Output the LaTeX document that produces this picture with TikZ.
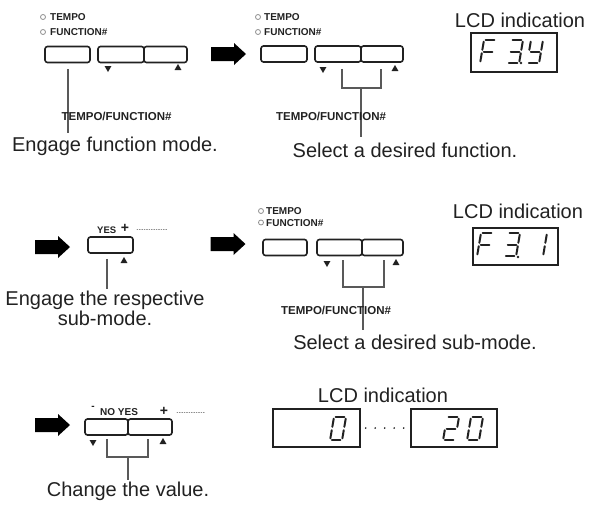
\documentclass[tikz,border=0pt]{standalone}
\usepackage{fontspec}
\setmainfont{Liberation Sans}
\usetikzlibrary{shapes.geometric}
\definecolor{inkA}{rgb}{0.13,0.13,0.13}
\definecolor{inkB}{rgb}{0.35,0.35,0.35}
\definecolor{ledc}{rgb}{0.55,0.55,0.55}

% seven segment digit: top-left corner, list of segments
\newcommand\lcddigit[3]{%
  \begin{scope}[shift={(#1,#2)}, xslant=0.17]
    \coordinate (qA) at (0,0);    \coordinate (qB) at (12,0);
    \coordinate (qC) at (0,11.5); \coordinate (qD) at (12,11.5);
    \coordinate (qE) at (0,23);   \coordinate (qF) at (12,23);
    \foreach \p/\q in {#3} {\draw[lcdseg] (q\p) -- (q\q);}
  \end{scope}}

\begin{document}
\begin{tikzpicture}[x=1pt, y=-1pt, line cap=round,
  btn/.style={draw=inkA, line width=1.6pt, rounded corners=2.5pt, fill=white,
    minimum height=16pt, inner sep=0pt},
  led/.style={circle, draw=ledc, line width=0.8pt, minimum size=5pt, inner sep=0pt},
  small/.style={anchor=base west, inner sep=0pt, text=inkA,
    font=\fontsize{10}{11}\selectfont\bfseries},
  keylabel/.style={anchor=base, inner sep=0pt, text=inkA,
    font=\fontsize{11.5}{13}\selectfont\bfseries},
  say/.style={anchor=base, inner sep=0pt, text=inkA,
    font=\fontsize{20}{20}\selectfont},
  lcdbox/.style={draw=inkA, line width=1.3pt, inner sep=0pt},
  lcdseg/.style={draw=inkA, line width=2pt, shorten <=1.7pt, shorten >=1.7pt},
  upmark/.style={regular polygon, regular polygon sides=3, fill=inkA,
    inner sep=0pt, minimum size=8pt},
  dnmark/.style={upmark, shape border rotate=180},
  bigarrow/.pic={\fill[black] (-17.5,-7) -- (5.5,-7) -- (5.5,-11) -- (17.5,0)
    -- (5.5,11) -- (5.5,7) -- (-17.5,7) -- cycle;},
  stem/.style={draw=inkB, line width=1.2pt, line cap=butt},
  dotline/.style={draw=ledc, line width=0.8pt, dash pattern=on 0.8pt off 1.6pt}]
\useasboundingbox (0,0) rectangle (592,504);

% ---------- row 1, left: engage function mode ----------
\node[led] (led1) at (43,17) {};
\node[led] (led2) at (43,32) {};
\node[small] (tp1) at (50,20.7) {TEMPO};
\node[small] (fn1) at (50,35.7) {FUNCTION\#};
\node[btn, minimum width=45pt] (b1) at (67.5,54.5) {};
\node[btn, minimum width=46pt] (b2) at (121,54.5) {};
\node[btn, minimum width=43pt] (b3) at (165.5,54.5) {};
\node[dnmark] (dn1) at (108,68) {};
\node[upmark] (up1) at (178,68) {};
\node[say] (t1) at (115,151) {Engage function mode.};
\coordinate (s1) at ([shift={(0.5,6)}]b1.south);
\draw[stem, shorten >=3pt] (s1) -- (s1 |- t1.north);
\node[keylabel] (tf1) at (116.5,120.5) {TEMPO/FUNCTION\#};

% ---------- row 1, middle: select a function ----------
\pic (ar1) at (228.5,54) {bigarrow};
\node[led] (led3) at (258,17) {};
\node[led] (led4) at (258,32) {};
\node[small] (tp2) at (264,20.7) {TEMPO};
\node[small] (fn2) at (264,35.7) {FUNCTION\#};
\node[btn, minimum width=46pt] (b4) at (284,54) {};
\node[btn, minimum width=46pt] (b5) at (338,54) {};
\node[btn, minimum width=42pt] (b6) at (382,54) {};
\node[dnmark] (dn2) at (323,69) {};
\node[upmark] (up2) at (395,69) {};
\node[say] (t2) at (405,157) {Select a desired function.};
\coordinate (j1) at (361,88);
\draw[stem] ([shift={(4,6)}]b5.south) |- (j1) -| ([shift={(-1,6)}]b6.south);
\draw[stem, shorten >=5pt] (j1) -- (j1 |- t2.north);
\node[keylabel] (tf2) at (331,120.5) {TEMPO/FUNCTION\#};

% ---------- row 1, right: LCD ----------
\node[say] (l1) at (520,27) {LCD indication};
\node[lcdbox, minimum width=86pt, minimum height=39pt] (lcd1) at (514,52.5) {};
\lcddigit{484}{40}{A/B,A/C,C/E,C/D}
\lcddigit{511}{40}{A/B,B/D,D/F,E/F,C/D}
\fill[inkA] (521,63) circle (1.4);
\lcddigit{531}{40}{A/C,B/D,C/D,D/F,E/F}

% ---------- row 2, left: engage the sub-mode ----------
\pic (ar2) at (52.5,247) {bigarrow};
\node[small, font=\fontsize{9.5}{11}\selectfont\bfseries] (yes1) at (97,233) {YES};
\node[inner sep=0pt, text=inkA, font=\fontsize{14}{14}\selectfont\bfseries] (pl1) at (125,228) {+};
\coordinate (d1a) at (137,229);
\coordinate (d1b) at (167,229);
\draw[dotline] (d1a) -- (d1b);
\node[btn, minimum width=45pt] (b7) at (110.5,245) {};
\node[upmark] (up3) at (124,261) {};
\node[say, anchor=north, align=center] (t3) at (105,290.5) {Engage the respective\\sub-mode.};
\coordinate (s3) at ([shift={(-3.5,5)}]b7.south);
\draw[stem, shorten >=2pt] (s3) -- (s3 |- t3.north);

% ---------- row 2, middle: select a sub-mode ----------
\pic (ar3) at (228,244) {bigarrow};
\node[led] (led5) at (261,211) {};
\node[led] (led6) at (261,222.5) {};
\node[small] (tp3) at (266,214.5) {TEMPO};
\node[small] (fn3) at (266,226) {FUNCTION\#};
\node[btn, minimum width=44pt] (b8) at (285,247.5) {};
\node[btn, minimum width=45pt] (b9) at (339.5,247.5) {};
\node[btn, minimum width=41pt] (b10) at (382.5,247.5) {};
\node[dnmark] (dn3) at (327,263) {};
\node[upmark] (up4) at (396,263) {};
\node[say] (t4) at (415,349) {Select a desired sub-mode.};
\coordinate (j2) at (363,287);
\draw[stem] ([shift={(3.5,4)}]b9.south) |- (j2) -| ([shift={(1.5,4)}]b10.south);
\draw[stem, shorten >=4pt] (j2) -- (j2 |- t4.north);
\node[keylabel] (tf3) at (336,314) {TEMPO/FUNCTION\#};

% ---------- row 2, right: LCD ----------
\node[say] (l2) at (518,218) {LCD indication};
\node[lcdbox, minimum width=85pt, minimum height=37pt] (lcd2) at (515.5,246.5) {};
\lcddigit{481}{233}{A/B,A/C,C/E,C/D}
\lcddigit{508}{233}{A/B,B/D,D/F,E/F,C/D}
\fill[inkA] (518,257) circle (1.4);
\lcddigit{535}{233}{B/D,D/F}

% ---------- row 3: change the value ----------
\pic (ar4) at (52.5,425) {bigarrow};
\node[inner sep=0pt, text=inkA, font=\fontsize{10}{10}\selectfont\bfseries] (mn1) at (93,408) {-};
\node[small] (noyes) at (100,415) {NO YES};
\node[inner sep=0pt, text=inkA, font=\fontsize{14}{14}\selectfont\bfseries] (pl2) at (164,411) {+};
\coordinate (d2a) at (177,412);
\coordinate (d2b) at (205,412);
\draw[dotline] (d2a) -- (d2b);
\node[btn, minimum width=43pt] (b11) at (106.5,427) {};
\node[btn, minimum width=44pt] (b12) at (150,427) {};
\node[dnmark] (dn4) at (93,442) {};
\node[upmark] (up5) at (163,442) {};
\node[say] (t5) at (128,496) {Change the value.};
\coordinate (j3) at (128,457);
\draw[stem] ([shift={(0.5,3)}]b11.south) |- (j3) -| ([shift={(-2,3)}]b12.south);
\draw[stem, shorten >=1.5pt] (j3) -- (j3 |- t5.north);

% LCD range 0 ... 20
\node[say] (l3) at (383,402) {LCD indication};
\node[lcdbox, minimum width=87pt, minimum height=38pt] (lcd3) at (316.5,428) {};
\node[lcdbox, minimum width=86pt, minimum height=38pt] (lcd4) at (454,428) {};
\draw[inkA, line width=1.8pt, line cap=round, dash pattern=on 0pt off 9.5pt,
  shorten <=5pt, shorten >=6pt] (lcd3.east) -- (lcd4.west);
\lcddigit{334}{417}{A/B,B/D,D/F,E/F,C/E,A/C}
\lcddigit{447}{417}{A/B,B/D,C/D,C/E,E/F}
\lcddigit{471}{417}{A/B,B/D,D/F,E/F,C/E,A/C}
\end{tikzpicture}
\end{document}
